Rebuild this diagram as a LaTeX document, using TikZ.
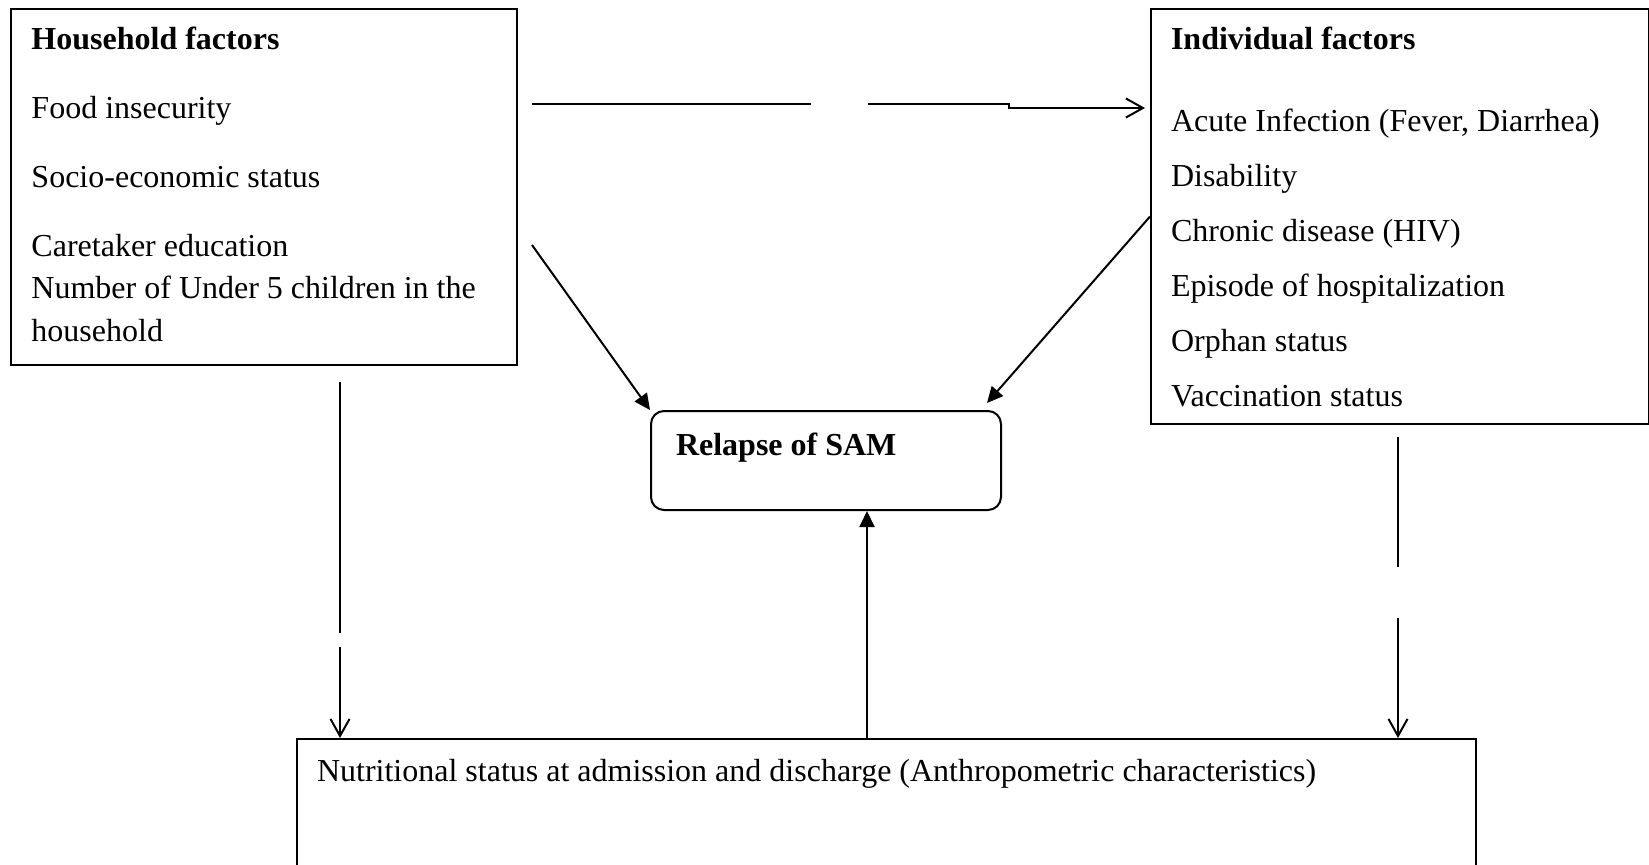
\documentclass[tikz,border=0pt]{standalone}
\usepackage{fontspec}
\setmainfont{Liberation Serif}
\usetikzlibrary{arrows.meta}
\begin{document}
\begin{tikzpicture}[x=0.5pt,y=-0.5pt,line width=1pt,every node/.style={draw,anchor=north west,align=flush left,inner ysep=0pt,font=\fontsize{16pt}{21.25pt}\selectfont},openhead/.style={-{Straight Barb[length=8.5pt,width=9.5pt]}},solidhead/.style={-{Triangle[length=8pt,width=7.5pt]}}]
\useasboundingbox (0,0) rectangle (1649,864);
\clip (0,0) rectangle (1649,864);
\node (hh) at (10,8) [text width=232.5pt,inner xsep=10.25pt,text height=20pt,text depth=158pt] {\textbf{Household factors}\\[13.25pt]Food insecurity\\[13.25pt]Socio-economic status\\[13.25pt]Caretaker education\\Number of Under 5 children in the household};
\node (ind) at (1150,8) [text width=229pt,inner xsep=10pt,text height=20pt,text depth=187.5pt] {\textbf{Individual factors}\\[19.75pt]Acute Infection (Fever, Diarrhea)\\[6.25pt]Disability\\[6.25pt]Chronic disease (HIV)\\[6.25pt]Episode of hospitalization\\[6.25pt]Orphan status\\[6.25pt]Vaccination status};
\node (rel) at (650,410) [rounded corners=6.5pt,text width=150pt,inner xsep=12.5pt,text height=22pt,text depth=27.5pt] {\textbf{Relapse of SAM}};
\node (nut) at (296,738) [text width=569.25pt,inner xsep=10pt,text height=21pt,text depth=60pt] {Nutritional status at admission and discharge (Anthropometric characteristics)};
\coordinate (t1) at (532,104); \coordinate (t2) at (811,104); \coordinate (t3) at (868,104); \coordinate (t4) at (1009,108); \coordinate (t5) at (1145,108);
\coordinate (h1) at (532,245); \coordinate (r1) at (987,403); \coordinate (m) at (867,0);
\coordinate (l1) at (340,382); \coordinate (l2) at (340,633); \coordinate (l3) at (340,647);
\coordinate (v1) at (1398,437); \coordinate (v2) at (1398,567); \coordinate (v3) at (1398,618);
\draw (t1)--(t2); \draw[openhead] (t3) -| (t4) -- (t5);
\draw[solidhead] (h1)--(rel.north west); \draw[solidhead] (ind.west)--(r1);
\draw[solidhead] (nut.north -| m)--(rel.south -| m);
\draw (l1)--(l2); \draw[openhead] (l3)--(nut.north -| l3);
\draw (v1)--(v2); \draw[openhead] (v3)--(nut.north -| v3);
\end{tikzpicture}
\end{document}
